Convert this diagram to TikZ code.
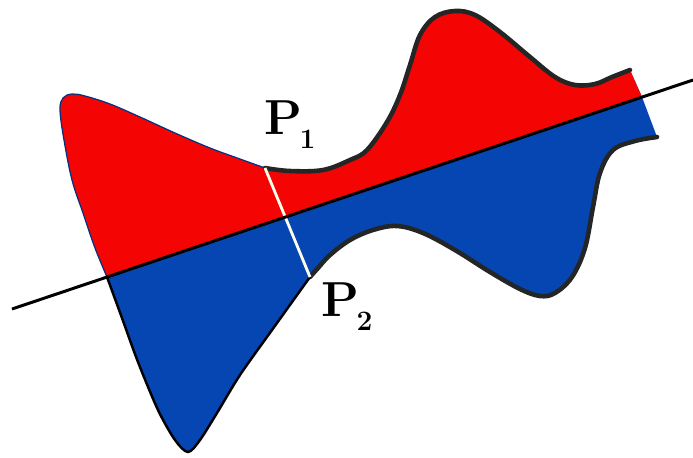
\documentclass[tikz,border=0pt]{standalone}
\usepackage{fontspec}
\usepackage{amsmath}
\usepackage{xcolor}
\usepackage{tikz}
\usetikzlibrary{positioning, calc}

\definecolor{lobered}{RGB}{245,4,4}
\definecolor{lobeblue}{RGB}{6,70,178}
\definecolor{rimdark}{RGB}{35,38,36}

% outline of the body, in pixel units
\def\bodyupper{plot[smooth, tension=0.6] coordinates {(265,168) (290,171) (323,170) (350,160) (367,150) (387,122) (400,95) (410,65) (420,35) (435,17) (455,11) (475,15) (500,32) (530,57) (555,77) (575,85) (595,84) (612,77) (630,70)}}
\def\bodylower{plot[smooth, tension=0.6] coordinates {(657,137) (635,141) (613,150) (600,173) (593,207) (585,248) (572,277) (555,293) (540,296) (520,289) (490,272) (455,250) (423,233) (397,226) (373,230) (350,240) (330,255) (318,268) (310,277)}}
\def\bodybottom{plot[smooth, tension=0.5] coordinates {(310,277) (272,330) (240,375) (217,413) (200,440) (188,452) (175,440) (158,410) (138,362) (122,318) (107,277)}}
\def\bodyleft{plot[smooth, tension=0.6] coordinates {(107,277) (95,248) (83,213) (72,180) (64,140) (60,110) (63,98) (72,94) (85,96) (110,104) (140,117) (175,133) (210,148) (240,159) (265,168)}}
\edef\bodypath{(265,168) -- \bodyupper -- (642,97) -- \bodylower -- \bodybottom -- \bodyleft -- cycle}

% label with a small, low index
\newcommand{\plab}[1]{{\fontsize{28}{30}\selectfont\bfseries P}\kern-1.5pt\raisebox{-8pt}{\fontsize{16}{18}\selectfont\bfseries #1}}

\begin{document}
\begin{tikzpicture}[x=0.02cm, y=-0.02cm,
    rim/.style={rimdark, line width=2.6pt, line join=round, line cap=round},
    plabel/.style={anchor=base west, inner sep=0pt}]
        \useasboundingbox (0,0) rectangle (693,457);

        % Points
        \coordinate (p1) at (265,168);
        \coordinate (p2) at (310,277);
        \coordinate (la) at (12,309);
        \coordinate (lb) at (693,80);

        % Fill: blue below, red above the line
        \fill[lobeblue] \bodypath;
        \begin{scope}
          \clip (-50,330) -- (750,61) -- (750,-100) -- (-50,-100) -- cycle;
          \fill[lobered] \bodypath;
        \end{scope}

        % Rims
        \draw[rim] \bodyupper;
        \draw[rim] \bodylower;
        \draw[black, line width=1.4pt, line cap=round] \bodybottom;
        \draw[lobeblue!70!black, line width=0.7pt] \bodyleft;

        % Chord and line
        \draw[white!92!yellow, line width=1.6pt] (p1) -- (p2);
        \draw[black, line width=1.7pt] (la) -- (lb);

        % Labels
        \node[plabel] (lab1) at (264,134) {\plab{1}};
        \node[plabel] (lab2) at (321,316) {\plab{2}};
      \end{tikzpicture}
\end{document}
